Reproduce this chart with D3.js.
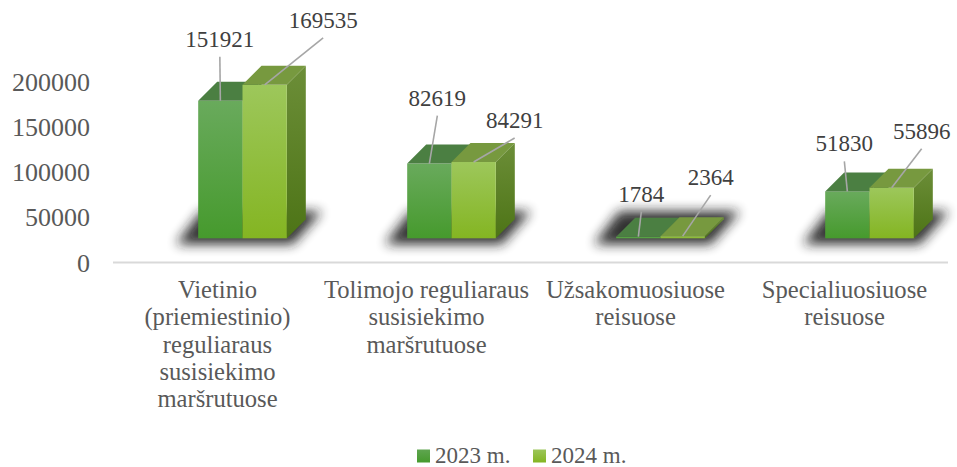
<!DOCTYPE html>
<html>
<head>
<meta charset="utf-8">
<script src="https://cdn.jsdelivr.net/npm/d3@7"></script>
</head>
<body style="margin:0;padding:0;background:#fff">
<svg id="chart" width="957" height="467"></svg>
<script>
// ---- data ----
const categories = [
  "Vietinio\n(priemiestinio)\nreguliaraus\nsusisiekimo\nmaršrutuose",
  "Tolimojo reguliaraus\nsusisiekimo\nmaršrutuose",
  "Užsakomuosiuose\nreisuose",
  "Specialiuosiuose\nreisuose"
];
const seriesNames = ["2023 m.", "2024 m."];
const values2023 = [151921, 82619, 1784, 51830];
const values2024 = [169535, 84291, 2364, 55896];
const yTicks = [0, 50000, 100000, 150000, 200000];

// ---- layout (label placement relative to bar top, as in the original) ----
const labelShift2023 = [[-0.5, -54], [8, -58], [3, -35], [-3, -40]];
const labelShift2024 = [[58.5, -57], [41, -34], [28, -51], [30, -49]];

const FONT = "Liberation Serif";
const svg = d3.select("#chart");
const defs = svg.append("defs");

function setFont(sel, size) {
  sel.attr("font-family", FONT);
  sel.each(function () {
    this.style.setProperty("font-family", FONT, "important");
    this.style.setProperty("font-size", size + "px", "important");
  });
  return sel;
}

function vGrad(id, c1, c2) {
  const g = defs.append("linearGradient").attr("id", id)
    .attr("x1", 0).attr("y1", 0).attr("x2", 0).attr("y2", 1);
  g.append("stop").attr("offset", "0%").attr("stop-color", c1);
  g.append("stop").attr("offset", "100%").attr("stop-color", c2);
}
vGrad("front2023", "#69aa5c", "#469a2d");
vGrad("front2024", "#9dc75b", "#84b522");
vGrad("side2024", "#6c8e38", "#4d7416");
vGrad("side2023", "#4d8a3c", "#356d22");
vGrad("leg2023", "#5fa550", "#469a2d");
vGrad("leg2024", "#9cc65a", "#84b522");

const blur = defs.append("filter").attr("id", "shadowBlur")
  .attr("x", "-50%").attr("y", "-50%").attr("width", "200%").attr("height", "200%");
blur.append("feGaussianBlur").attr("stdDeviation", 6);

// scales
const x = d3.scaleBand().domain(categories).range([114, 950]).padding(0);
const bw = x.bandwidth();
const barW = bw * 0.212;
const xs = d3.scaleBand().domain(seriesNames)
  .range([bw / 2 + 24 - barW, bw / 2 + 24 + barW]).padding(0);
const y = d3.scaleLinear().domain([0, 200000]).range([262.5, 81.5]);

// 3D projection offsets
const floorShift = 24.2;
const depthX = 19, depthY = 19;

// y axis labels
const yAxis = d3.axisLeft(y).tickValues(yTicks).tickSize(0).tickPadding(0)
  .tickFormat(d3.format("d"));
const yg = svg.append("g").attr("transform", "translate(90,0)").call(yAxis);
yg.attr("font-family", null).attr("font-size", null);
yg.select(".domain").remove();
setFont(yg.selectAll("text"), 26)
  .attr("fill", "#595959")
  .attr("dy", "0.33em");

// horizontal axis line
svg.append("line")
  .attr("x1", 113).attr("x2", 948)
  .attr("y1", y(0)).attr("y2", y(0))
  .attr("stroke", "#d9d9d9").attr("stroke-width", 2);

// bars
const series = [
  { name: seriesNames[0], values: values2023, front: "url(#front2023)", top: "#4b7f42", side: "url(#side2023)" },
  { name: seriesNames[1], values: values2024, front: "url(#front2024)", top: "#77993f", side: "url(#side2024)" }
];

const barsG = svg.append("g");
categories.forEach((cat, i) => {
  const g = barsG.append("g");
  const x0 = x(cat) + xs(seriesNames[0]);
  const x1 = x(cat) + xs(seriesNames[1]) + xs.bandwidth();
  const yb = y(0) - floorShift;
  const shadowPts = [
    [x0 - 22, yb + 6], [x1 + 6, yb + 6],
    [x1 + depthX + 16, yb - depthY - 8], [x0 + depthX - 16, yb - depthY - 8]
  ];
  g.append("polygon")
    .attr("points", shadowPts.map(p => p.join(",")).join(" "))
    .attr("fill", "#1a1a1a").attr("opacity", 0.9)
    .attr("filter", "url(#shadowBlur)");

  series.forEach((s) => {
    const v = s.values[i];
    const bx = x(cat) + xs(s.name);
    const w = xs.bandwidth();
    const yt = y(v) - floorShift;
    g.append("polygon")
      .attr("points", [[bx + w, yt], [bx + w + depthX, yt - depthY],
        [bx + w + depthX, yb - depthY], [bx + w, yb]].map(p => p.join(",")).join(" "))
      .attr("fill", s.side);
    g.append("rect")
      .attr("x", bx).attr("y", yt).attr("width", w).attr("height", Math.max(0.8, yb - yt))
      .attr("fill", s.front);
    g.append("polygon")
      .attr("points", [[bx, yt], [bx + depthX, yt - depthY],
        [bx + w + depthX, yt - depthY], [bx + w, yt]].map(p => p.join(",")).join(" "))
      .attr("fill", s.top);
  });
});

// data labels with leader lines
const labelsG = svg.append("g");
series.forEach((s, si) => {
  const shifts = si === 0 ? labelShift2023 : labelShift2024;
  categories.forEach((cat, i) => {
    const v = s.values[i];
    const ex = x(cat) + xs(s.name) + xs.bandwidth() / 2;
    const ey = y(v) - floorShift;
    const tx = ex + shifts[i][0];
    const ty = ey + shifts[i][1];
    labelsG.append("line")
      .attr("x1", tx).attr("y1", ty + 10)
      .attr("x2", ex).attr("y2", ey)
      .attr("stroke", "#a6a6a6").attr("stroke-width", 1.6);
    setFont(labelsG.append("text"), 23)
      .attr("x", tx).attr("y", ty)
      .attr("text-anchor", "middle")
      .attr("fill", "#404040")
      .text(d3.format("d")(v));
  });
});

// category labels
const catG = svg.append("g");
categories.forEach((cat) => {
  const lines = cat.split("\n");
  const t = setFont(catG.append("text"), 24.6)
    .attr("text-anchor", "middle")
    .attr("fill", "#595959");
  lines.forEach((ln, k) => {
    t.append("tspan")
      .attr("x", x(cat) + bw / 2 - 1)
      .attr("y", 298 + k * 27.3)
      .text(ln);
  });
});

// legend
const legend = svg.append("g");
const legItems = [
  { name: seriesNames[0], fill: "url(#leg2023)", x: 417 },
  { name: seriesNames[1], fill: "url(#leg2024)", x: 533 }
];
legItems.forEach(it => {
  legend.append("rect").attr("x", it.x).attr("y", 449.5)
    .attr("width", 13).attr("height", 13).attr("fill", it.fill);
  setFont(legend.append("text"), 23)
    .attr("x", it.x + 18).attr("y", 463)
    .attr("fill", "#595959").text(it.name);
});
</script>
</body>
</html>
